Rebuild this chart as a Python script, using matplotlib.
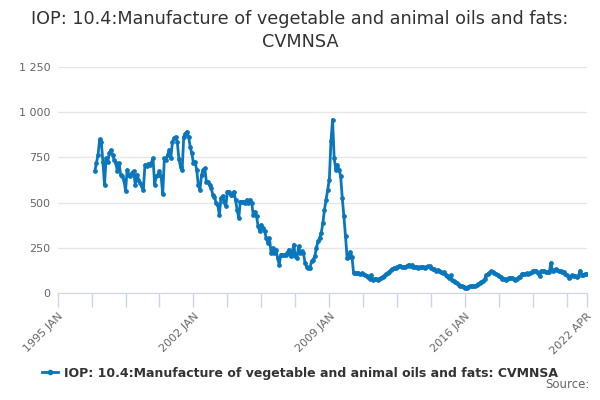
import matplotlib
matplotlib.use("Agg")
import matplotlib.pyplot as plt
import numpy as np

title = "IOP: 10.4:Manufacture of vegetable and animal oils and fats:\nCVMNSA"
series_name = "IOP: 10.4:Manufacture of vegetable and animal oils and fats: CVMNSA"

axis_start_year = 1995          # first month on the axis: 1995 JAN
data_start = (1996, 12)         # first observation: 1996 DEC
axis_end = (2022, 4)            # last month on the axis: 2022 APR

values = [
    673,                                                            # 1996 DEC
    718, 764, 850, 836, 727, 596, 745, 727, 773, 791, 764, 736,     # 1997
    718, 673, 718, 655, 645, 627, 564, 682, 655, 645, 664, 673,     # 1998
    600, 655, 627, 609, 591, 567, 709, 705, 713, 709, 720, 745,     # 1999
    600, 645, 655, 673, 645, 545, 745, 736, 764, 791, 745, 836,     # 2000
    855, 864, 836, 739, 699, 680, 864, 882, 892, 864, 809, 772,     # 2001
    717, 726, 680, 597, 570, 653, 680, 689, 616, 616, 597, 579,     # 2002
    542, 533, 496, 487, 432, 524, 537, 506, 482, 561, 561, 542,     # 2003
    542, 561, 515, 460, 414, 506, 506, 506, 500, 515, 500, 515,     # 2004
    496, 432, 450, 424, 368, 341, 378, 360, 341, 304, 277, 304,     # 2005
    221, 249, 221, 240, 194, 157, 212, 212, 212, 212, 221, 240,     # 2006
    203, 221, 268, 203, 194, 258, 221, 231, 221, 166, 144, 138,     # 2007
    138, 175, 184, 203, 250, 286, 304, 332, 387, 461, 517, 572,     # 2008
    627, 839, 959, 747, 683, 710, 683, 646, 526, 424, 314, 196,     # 2009
    200, 227, 200, 111, 110, 108, 110, 105, 108, 104, 100, 95,      # 2010
    89, 80, 98, 74, 78, 75, 72, 78, 85, 90, 95, 105,                # 2011
    112, 118, 125, 130, 137, 140, 145, 148, 150, 145, 143, 143,     # 2012
    150, 157, 152, 155, 143, 143, 145, 140, 143, 145, 143, 140,     # 2013
    143, 148, 148, 140, 135, 130, 124, 128, 120, 115, 111, 115,     # 2014
    100, 93, 83, 98, 70, 65, 61, 55, 46, 40, 37, 35,                # 2015
    30, 28, 35, 37, 40, 37, 38, 43, 48, 56, 60, 65,                 # 2016
    75, 98, 105, 111, 120, 117, 111, 105, 98, 95, 87, 80,           # 2017
    78, 74, 80, 83, 85, 83, 80, 74, 78, 87, 90, 106,                # 2018
    106, 106, 108, 106, 111, 115, 124, 122, 120, 110, 93, 120,      # 2019
    120, 120, 117, 118, 117, 167, 120, 125, 130, 128, 120, 122,     # 2020
    117, 115, 105, 98, 85, 90, 98, 95, 93, 90, 95, 124,             # 2021
    102, 100, 103, 106,                                             # 2022 JAN-APR
]

y_ticks = [0, 250, 500, 750, 1000, 1250]
y_labels = ["0", "250", "500", "750", "1 000", "1 250"]
x_tick_labels = ["1995 JAN", "2002 JAN", "2009 JAN", "2016 JAN", "2022 APR"]

months = ["JAN", "FEB", "MAR", "APR", "MAY", "JUN", "JUL", "AUG", "SEP", "OCT", "NOV", "DEC"]

def month_index(y, m):
    return (y - axis_start_year) * 12 + (m - 1)

x0 = month_index(*data_start)
x = x0 + np.arange(len(values))
x_end = month_index(*axis_end)

blue = "#0a77bd"
fig = plt.figure(figsize=(6, 4), dpi=100)
ax = fig.add_axes([0.096, 0.2675, 0.8815, 0.565])

ax.plot(x, values, color=blue, lw=2, marker="o", ms=2.4, mec=blue, mfc=blue, zorder=3)

ax.set_ylim(0, 1250)
ax.set_xlim(0, x_end)
ax.set_yticks(y_ticks)
ax.set_yticklabels(y_labels)
ax.grid(axis="y", color="#e6e6e6", lw=1)
ax.set_axisbelow(True)

minor_ticks = list(range(0, x_end, 21)) + [x_end]
major_positions = [month_index(int(s[:4]), months.index(s[5:]) + 1) for s in x_tick_labels]
ax.set_xticks(minor_ticks, minor=True)
ax.set_xticks(major_positions)
ax.set_xticklabels(x_tick_labels, rotation=45, ha="right", rotation_mode="anchor",
                   color="#666666", fontsize=8)
ax.tick_params(axis="x", which="both", length=10, color="#ccd6eb", width=1)
ax.tick_params(axis="x", which="major", pad=3)
ax.tick_params(axis="y", length=0, labelcolor="#666666", labelsize=8, pad=5)

for s in ["top", "right", "left"]:
    ax.spines[s].set_visible(False)
ax.spines["bottom"].set_color("#ccd6eb")

fig.text(0.5, 0.975, title, ha="center", va="top", fontsize=12.7, color="#333333",
         linespacing=1.35)

# legend
from matplotlib.lines import Line2D
handle = Line2D([], [], color=blue, lw=2, marker="o", ms=3)
leg = fig.legend([handle], [series_name], loc="center", bbox_to_anchor=(0.5, 0.067),
                 frameon=False, handlelength=1.3, handletextpad=0.5,
                 prop={"weight": "bold", "size": 9})
for t in leg.get_texts():
    t.set_color("#333333")

fig.text(0.983, 0.022, "Source:", ha="right", va="bottom", fontsize=8.5, color="#666666")

fig.savefig("out.png", dpi=100)
